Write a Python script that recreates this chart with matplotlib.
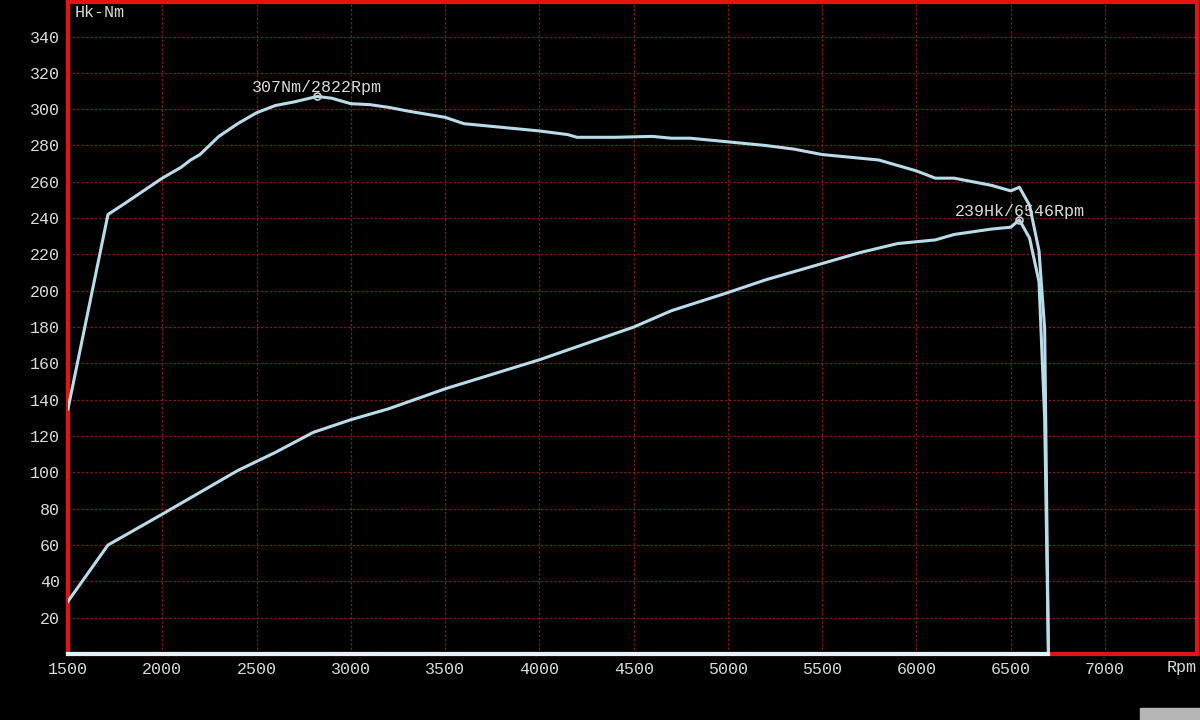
import matplotlib
matplotlib.use("Agg")
import matplotlib.pyplot as plt
from matplotlib.patches import Rectangle

# Dyno readings
TQ_RPM = [1500, 1712, 1800, 2000, 2100, 2150, 2200, 2300, 2400, 2500, 2600, 2700,
          2822, 2900, 3000, 3100, 3200, 3300, 3500, 3600, 3800, 4000, 4150, 4200,
          4400, 4600, 4700, 4800, 5000, 5200, 5350, 5500, 5800, 6000, 6100, 6200,
          6400, 6500, 6546, 6600, 6650, 6680, 6700]
TORQUE = [135, 242, 248, 262, 268, 272, 275, 285, 292, 298, 302, 304,
          307, 306, 303, 302.5, 301, 299, 295.5, 292, 290, 288, 286, 284.5,
          284.5, 285, 284, 284, 282, 280, 278, 275, 272, 266, 262, 262,
          258, 255, 257, 247, 222, 179, 0]

HP_RPM = [1500, 1712, 2000, 2200, 2400, 2600, 2800, 3000, 3200, 3500, 4000, 4250,
          4500, 4700, 5000, 5200, 5400, 5700, 5900, 6100, 6200, 6400, 6500, 6546,
          6600, 6650, 6680, 6700]
POWER = [29, 60, 77, 89, 101, 111, 122, 129, 135, 146, 162, 171,
         180, 189, 199, 206, 212, 221, 226, 228, 231, 234, 235, 239,
         229, 205, 130, 0]

PEAK_TQ = (2822, 307)
PEAK_HP = (6546, 239)

X_TICKS = list(range(1500, 7001, 500))
Y_TICKS = list(range(20, 341, 20))

LINE = "#b9dce9"
TXT = "#dadada"
RED = "#e31414"
FONT = "Liberation Mono"

fig = plt.figure(figsize=(12, 7.2), dpi=100, facecolor="black")
ax = fig.add_axes([68 / 1200, 66 / 720, 1129 / 1200, 652 / 720], facecolor="black")

ax.plot(TQ_RPM, TORQUE, color=LINE, lw=2.2, zorder=3)
ax.plot(HP_RPM, POWER, color=LINE, lw=2.2, zorder=3)
ax.plot([1500, 6700], [0, 0], color="#e8f2f6", lw=3, zorder=4, clip_on=False)

for (x, y), lab in [(PEAK_TQ, "307Nm/2822Rpm"), (PEAK_HP, "239Hk/6546Rpm")]:
    ax.plot(x, y, "o", ms=5, mfc="none", mec="#cfcfcf", mew=1.2, zorder=5)
    ax.annotate(lab, (x, y), xytext=(0, 1), textcoords="offset points",
                ha="center", va="bottom", color=TXT, fontsize=12, family=FONT)

ax.set_xlim(1500, 7488)
ax.set_ylim(0, 359)
ax.set_xticks(X_TICKS)
ax.set_yticks(Y_TICKS)
ax.grid(True, color="#7c1a1a", lw=0.9, linestyle=(0, (2, 1.5)))
ax.tick_params(length=0, colors=TXT, labelsize=12, pad=6)
for lbl in ax.get_xticklabels() + ax.get_yticklabels():
    lbl.set_family(FONT)
for sp in ax.spines.values():
    sp.set_color(RED)
    sp.set_linewidth(3)

ax.text(0.006, 0.995, "Hk-Nm", transform=ax.transAxes, ha="left", va="top",
        color=TXT, fontsize=12, family=FONT)
ax.text(1.0, -0.009, "Rpm", transform=ax.transAxes, ha="right", va="top",
        color=TXT, fontsize=12, family=FONT)

fig.add_artist(Rectangle((1140 / 1200, 0), 60 / 1200, 12 / 720,
                         transform=fig.transFigure, color="#b5b5b5"))

fig.savefig("out.png", dpi=100, facecolor="black")
